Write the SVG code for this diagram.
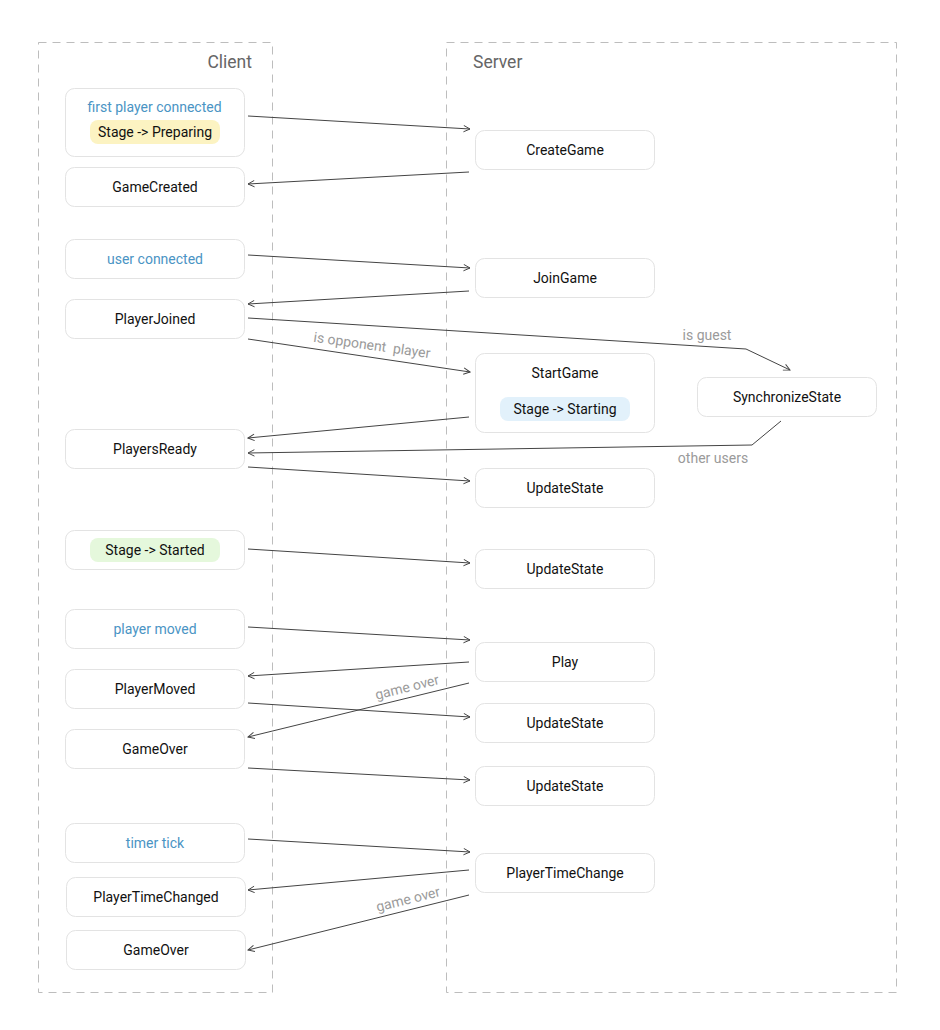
<svg xmlns="http://www.w3.org/2000/svg" width="940" height="1030" viewBox="0 0 940 1030">
<defs>
<marker id="arr" viewBox="0 0 10 10" refX="9" refY="5" markerWidth="8" markerHeight="8" orient="auto" markerUnits="userSpaceOnUse">
<path d="M1,1 L9,5 L1,9" fill="none" stroke="#444" stroke-width="1.2"/>
</marker>
<style>
.lane{fill:none;stroke:#bdbdbd;stroke-width:1;stroke-dasharray:8 6}
.lanet{font-family:Roboto,"Liberation Sans",sans-serif;font-size:17.5px;fill:#666}
.box{fill:#fff;stroke:#e3e3e3;stroke-width:1}
.t{font-family:Roboto,"Liberation Sans",sans-serif;font-size:14px;fill:#111;text-anchor:middle;dominant-baseline:central}
.ev{fill:#4a94c4}
.lbl{font-family:Roboto,"Liberation Sans",sans-serif;font-size:14px;fill:#9a9a9a;text-anchor:middle;dominant-baseline:central}
.c{fill:none;stroke:#444;stroke-width:1}
</style>
</defs>
<rect width="940" height="1030" fill="#fff"/>
<g id="lanes">
<rect class="lane" x="38.5" y="42.5" width="234" height="950"/>
<rect class="lane" x="446.5" y="42.5" width="450" height="950"/>
<text class="lanet" x="252" y="68" text-anchor="end">Client</text>
<text class="lanet" x="473" y="68">Server</text>
</g>
<g id="connectors">
<line class="c" x1="248" y1="116" x2="470" y2="129" marker-end="url(#arr)"/>
<line class="c" x1="469" y1="172" x2="248" y2="184" marker-end="url(#arr)"/>
<line class="c" x1="248" y1="255" x2="470" y2="268" marker-end="url(#arr)"/>
<line class="c" x1="469" y1="291" x2="248" y2="304" marker-end="url(#arr)"/>
<polyline class="c" points="248,318 746,349 790,370" marker-end="url(#arr)"/>
<text class="lbl" x="707" y="335">is guest</text>
<line class="c" x1="248" y1="339" x2="470" y2="372" marker-end="url(#arr)"/>
<text class="lbl" x="372" y="345" transform="rotate(8 372 345)" xml:space="preserve">is opponent  player</text>
<line class="c" x1="469" y1="417" x2="248" y2="438" marker-end="url(#arr)"/>
<polyline class="c" points="781,421 752,445 248,453" marker-end="url(#arr)"/>
<text class="lbl" x="713" y="458">other users</text>
<line class="c" x1="248" y1="467" x2="470" y2="481" marker-end="url(#arr)"/>
<line class="c" x1="248" y1="549" x2="470" y2="563" marker-end="url(#arr)"/>
<line class="c" x1="248" y1="627" x2="470" y2="640" marker-end="url(#arr)"/>
<line class="c" x1="469" y1="662" x2="248" y2="676" marker-end="url(#arr)"/>
<line class="c" x1="469" y1="683" x2="248" y2="737" marker-end="url(#arr)"/>
<text class="lbl" x="407" y="687" transform="rotate(-14 407 687)">game over</text>
<line class="c" x1="248" y1="703" x2="470" y2="717" marker-end="url(#arr)"/>
<line class="c" x1="248" y1="768" x2="470" y2="780" marker-end="url(#arr)"/>
<line class="c" x1="248" y1="839" x2="470" y2="852" marker-end="url(#arr)"/>
<line class="c" x1="469" y1="870" x2="248" y2="890" marker-end="url(#arr)"/>
<line class="c" x1="469" y1="895" x2="248" y2="950" marker-end="url(#arr)"/>
<text class="lbl" x="408" y="899" transform="rotate(-14 408 899)">game over</text>
</g>
<g id="first-player-connected">
<rect class="box" x="65.5" y="88.5" width="179" height="68" rx="9"/>
<text class="t ev" x="154.5" y="107">first player connected</text>
<rect x="90" y="120" width="130" height="24" rx="8" fill="#fcf3c2"/>
<text class="t" x="155" y="132">Stage -&gt; Preparing</text>
</g>
<g id="game-created"><rect class="box" x="65.5" y="167.5" width="179" height="39" rx="9"/><text class="t" x="155" y="187">GameCreated</text></g>
<g id="user-connected"><rect class="box" x="65.5" y="239.5" width="179" height="39" rx="9"/><text class="t ev" x="155" y="259">user connected</text></g>
<g id="player-joined"><rect class="box" x="65.5" y="299.5" width="179" height="39" rx="9"/><text class="t" x="155" y="319">PlayerJoined</text></g>
<g id="players-ready"><rect class="box" x="65.5" y="429.5" width="179" height="39" rx="9"/><text class="t" x="155" y="449">PlayersReady</text></g>
<g id="stage-started">
<rect class="box" x="65.5" y="530.5" width="179" height="39" rx="9"/>
<rect x="90" y="538" width="130" height="24" rx="8" fill="#e5f8dc"/>
<text class="t" x="155" y="550">Stage -&gt; Started</text>
</g>
<g id="player-moved-ev"><rect class="box" x="65.5" y="609.5" width="179" height="39" rx="9"/><text class="t ev" x="155" y="629">player moved</text></g>
<g id="player-moved"><rect class="box" x="65.5" y="669.5" width="179" height="39" rx="9"/><text class="t" x="155" y="689">PlayerMoved</text></g>
<g id="game-over-1"><rect class="box" x="65.5" y="729.5" width="179" height="39" rx="9"/><text class="t" x="155" y="749">GameOver</text></g>
<g id="timer-tick"><rect class="box" x="65.5" y="823.5" width="179" height="39" rx="9"/><text class="t ev" x="155" y="843">timer tick</text></g>
<g id="player-time-changed"><rect class="box" x="66.5" y="877.5" width="179" height="39" rx="9"/><text class="t" x="156" y="897">PlayerTimeChanged</text></g>
<g id="game-over-2"><rect class="box" x="66.5" y="930.5" width="179" height="39" rx="9"/><text class="t" x="156" y="950">GameOver</text></g>
<g id="create-game"><rect class="box" x="475.5" y="130.5" width="179" height="39" rx="9"/><text class="t" x="565" y="150">CreateGame</text></g>
<g id="join-game"><rect class="box" x="475.5" y="258.5" width="179" height="39" rx="9"/><text class="t" x="565" y="278">JoinGame</text></g>
<g id="start-game">
<rect class="box" x="475.5" y="353.5" width="179" height="79" rx="9"/>
<text class="t" x="565" y="373">StartGame</text>
<rect x="500" y="397" width="130" height="24" rx="8" fill="#e2f1fb"/>
<text class="t" x="565" y="409">Stage -&gt; Starting</text>
</g>
<g id="synchronize-state"><rect class="box" x="697.5" y="377.5" width="179" height="39" rx="9"/><text class="t" x="787" y="397">SynchronizeState</text></g>
<g id="update-state-1"><rect class="box" x="475.5" y="468.5" width="179" height="39" rx="9"/><text class="t" x="565" y="488">UpdateState</text></g>
<g id="update-state-2"><rect class="box" x="475.5" y="549.5" width="179" height="39" rx="9"/><text class="t" x="565" y="569">UpdateState</text></g>
<g id="play"><rect class="box" x="475.5" y="642.5" width="179" height="39" rx="9"/><text class="t" x="565" y="662">Play</text></g>
<g id="update-state-3"><rect class="box" x="475.5" y="703.5" width="179" height="39" rx="9"/><text class="t" x="565" y="723">UpdateState</text></g>
<g id="update-state-4"><rect class="box" x="475.5" y="766.5" width="179" height="39" rx="9"/><text class="t" x="565" y="786">UpdateState</text></g>
<g id="player-time-change"><rect class="box" x="475.5" y="853.5" width="179" height="39" rx="9"/><text class="t" x="565" y="873">PlayerTimeChange</text></g>
</svg>
